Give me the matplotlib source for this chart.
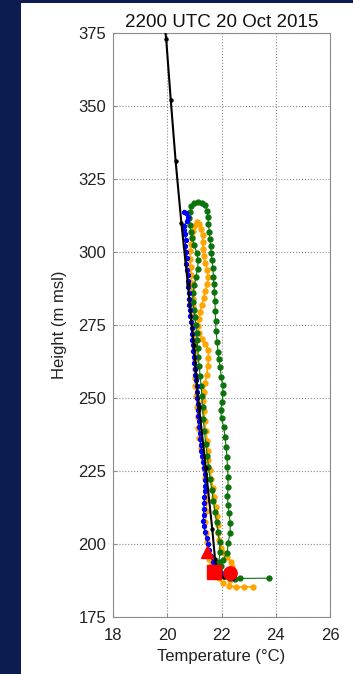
import matplotlib
matplotlib.use('Agg')
import matplotlib.pyplot as plt
from matplotlib.patches import Rectangle

plt.rcParams['font.family'] = ['Liberation Sans', 'DejaVu Sans']

# perfil de referencia (negro)
black_t = [19.90, 19.96, 20.13, 20.31, 20.52, 20.76, 20.98, 21.17, 21.42, 21.66, 21.76, 21.86, 22.10, 22.42]
black_h = [378, 373, 352, 331, 310, 289, 268, 247, 226, 205, 195, 190, 188.6, 188.2]

# perfil azul
blue_h = [313.8, 313.2, 312, 310.5, 309, 307.5, 306, 304, 302, 300, 298, 296, 294, 292, 290, 288, 286, 284,
          282, 280, 278, 276, 274, 272, 270, 268, 266, 264, 262, 260, 258, 256, 254, 252, 250, 248, 246, 244,
          242, 240, 238, 236, 234, 232, 230, 228, 226, 224, 222, 220, 218, 216, 214, 212, 210, 208, 206, 204,
          202, 200, 198, 196, 194, 192.5, 191, 190, 189.2, 188.6, 188.4]
blue_t = [20.60, 20.70, 20.76, 20.72, 20.62, 20.60, 20.66, 20.68, 20.66, 20.70, 20.72, 20.70, 20.74, 20.76,
          20.75, 20.78, 20.80, 20.79, 20.82, 20.85, 20.84, 20.88, 20.91, 20.90, 20.93, 20.95, 20.94, 20.98,
          21.00, 21.01, 21.04, 21.05, 21.08, 21.10, 21.09, 21.12, 21.13, 21.15, 21.16, 21.18, 21.19, 21.21,
          21.24, 21.26, 21.29, 21.31, 21.35, 21.38, 21.40, 21.40, 21.39, 21.37, 21.36, 21.35, 21.34, 21.33,
          21.35, 21.40, 21.45, 21.50, 21.55, 21.62, 21.68, 21.75, 21.85, 21.98, 22.12, 22.26, 22.40]

# perfil verde (subida + bajada)
green_t = [23.75, 22.68, 22.50, 22.32, 22.10, 21.95, 21.98, 22.04, 22.21, 22.24, 22.32, 22.32, 22.28, 22.24,
           22.22, 22.24, 22.24, 22.22, 22.20, 22.17, 22.13, 22.08, 22.00, 21.97, 22.02, 22.06, 22.04, 21.99,
           21.95, 21.90, 21.87, 21.84, 21.80, 21.78, 21.77, 21.76, 21.74, 21.72, 21.70, 21.68, 21.65, 21.62,
           21.60, 21.57, 21.55, 21.52, 21.50, 21.46, 21.38, 21.27, 21.12, 20.98, 20.88, 20.84, 20.82, 20.84,
           20.86, 20.92, 21.00, 21.08, 21.14, 21.12, 21.06, 21.00, 20.95, 20.94, 20.98, 21.02, 21.05, 21.08,
           21.10, 21.13, 21.14, 21.18, 21.21, 21.25, 21.28, 21.30, 21.33, 21.37, 21.42, 21.48, 21.52, 21.58,
           21.64, 21.70, 21.76, 21.82, 21.87, 21.93, 21.95, 21.90, 21.85]
green_h = [188.3, 188.2, 188.1, 188.3, 189.2, 190.4, 192.5, 194.5, 196.9, 200.3, 203.8, 207.2, 210.5, 213.5,
           216.5, 219.5, 223.0, 226.4, 229.8, 233.2, 236.6, 240.1, 243.0, 245.9, 248.6, 251.7, 254.5, 257.2,
           260.5, 263.2, 265.8, 269.2, 272.8, 276.3, 279.8, 283.2, 286.4, 289.1, 291.6, 294.6, 297.3, 299.8,
           302.0, 304.3, 307.0, 309.6, 312.0, 314.2, 316.2, 316.9, 317.2, 316.8, 315.6, 313.8, 311.6, 309.4,
           307.0, 304.8, 302.4, 299.8, 297.2, 294.3, 291.5, 288.6, 285.8, 283.0, 280.2, 277.6, 275.0, 272.4,
           269.8, 267.0, 264.1, 260.9, 257.6, 254.2, 250.6, 246.8, 242.8, 238.6, 234.2, 230.0, 226.2, 222.4,
           218.6, 214.8, 211.0, 207.4, 204.0, 200.6, 197.2, 194.0, 191.6]

# perfil naranja (subida + bajada)
orange_t = [23.15, 22.84, 22.55, 22.26, 22.30, 22.36, 22.40, 22.34, 22.22, 22.08, 21.98, 21.92, 21.88, 21.86,
            21.83, 21.79, 21.74, 21.68, 21.62, 21.57, 21.52, 21.50, 21.47, 21.42, 21.38, 21.35, 21.33, 21.35,
            21.39, 21.45, 21.50, 21.52, 21.51, 21.40, 21.28, 21.16, 21.12, 21.17, 21.22, 21.28, 21.34, 21.41,
            21.48, 21.51, 21.47, 21.40, 21.34, 21.32, 21.32, 21.30, 21.25, 21.17, 21.08, 21.00, 20.95, 20.92,
            20.88, 20.84, 20.84, 20.86, 20.88, 20.90, 20.92, 20.94, 20.96, 20.97, 20.96, 20.98, 21.00, 21.02,
            21.02, 21.01, 21.02, 21.04, 21.07, 21.10, 21.12, 21.14, 21.18, 21.24, 21.30, 21.36, 21.40, 21.44,
            21.47, 21.44, 21.40, 21.42, 21.47, 21.50, 21.53, 21.62, 21.78, 21.92, 22.05]
orange_h = [185.3, 185.3, 185.3, 185.7, 187.8, 190.0, 192.0, 194.0, 195.6, 197.0, 198.8, 201.2, 203.8, 206.6,
            209.6, 212.8, 216.0, 219.2, 222.2, 225.3, 228.6, 232.0, 235.4, 238.8, 242.2, 245.6, 249.0, 252.2,
            255.1, 258.0, 261.0, 263.8, 266.4, 268.4, 270.2, 272.2, 274.6, 277.2, 279.6, 282.0, 284.4, 286.8,
            289.2, 291.5, 293.9, 296.3, 298.6, 300.9, 303.4, 305.9, 308.0, 309.6, 310.2, 309.0, 307.2, 305.0,
            302.6, 300.3, 297.6, 295.0, 292.2, 289.4, 286.6, 283.8, 281.0, 278.0, 275.0, 272.0, 269.0, 266.0,
            263.0, 260.0, 257.0, 254.0, 250.6, 247.0, 243.4, 239.8, 236.2, 232.8, 229.4, 226.0, 222.6, 219.0,
            215.2, 211.4, 207.4, 203.8, 200.6, 197.6, 195.0, 192.4, 190.0, 188.2, 186.8]

# observaciones en superficie (rojo)
tri_t, tri_h = [21.47], [197.3]
sq_t, sq_h = [21.71], [190.4]
circ_t, circ_h = [22.32], [190.2]

fig = plt.figure(figsize=(3.53, 6.74), dpi=100, facecolor='#0c1c50')
# panel blanco
fig.patches.append(Rectangle((21 / 353, 0), 1 - 21 / 353, 671 / 674, transform=fig.transFigure,
                             facecolor='white', edgecolor='none', zorder=-10))

ax = fig.add_axes([113 / 353, 57 / 674, 217 / 353, 584 / 674])

ax.plot(orange_t, orange_h, '-o', color='#FFA500', lw=1.2, ms=3.6, mec='#FFA500', zorder=2)
ax.plot(green_t, green_h, '-o', color='#0c720c', lw=0.8, ms=3.5, mec='#0c720c', zorder=3)
ax.plot(blue_t, blue_h, '-o', color='#0000FF', lw=1.0, ms=2.8, mec='#0000FF', zorder=4)
ax.plot(black_t, black_h, '-o', color='black', lw=1.5, ms=2.2, zorder=5)

ax.plot(tri_t, tri_h, '^', color='red', ms=9, zorder=6)
ax.plot(sq_t, sq_h, 's', color='red', ms=10.2, zorder=6)
ax.plot(circ_t, circ_h, 'o', color='red', ms=9.6, zorder=6)

ax.set_xlim(18, 26)
ax.set_ylim(175, 375)
ax.set_xticks([18, 20, 22, 24, 26])
ax.set_yticks([175, 200, 225, 250, 275, 300, 325, 350, 375])

ax.grid(True, linestyle=':', linewidth=0.8, color='#8a8a8a')
ax.set_axisbelow(True)
for s in ax.spines.values():
    s.set_color('#8c8c8c')
    s.set_linewidth(0.8)
ax.tick_params(direction='in', length=3, color='#8c8c8c', labelsize=12, labelcolor='#222222', pad=5)
ax.tick_params(axis='x', pad=8)

ax.set_title('2200 UTC 20 Oct 2015', fontsize=13.5, pad=4, color='#111111')
ax.set_xlabel('Temperature (°C)', fontsize=12, labelpad=4, color='#222222')
ax.set_ylabel('Height (m msl)', fontsize=12, labelpad=8, color='#222222')

fig.savefig('out.png', dpi=100, facecolor=fig.get_facecolor())
